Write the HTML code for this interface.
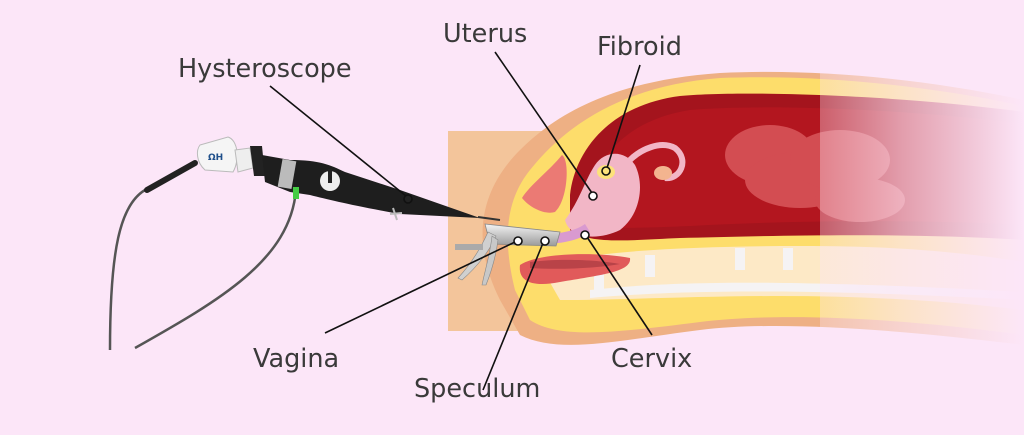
<!DOCTYPE html>
<html><head><meta charset="utf-8"><style>
html,body{margin:0;padding:0;background:#fce6f8;}
svg{display:block}
text{font-family:"DejaVu Sans","Liberation Sans",sans-serif;font-size:25.5px;fill:#3a3a3a;}
</style></head><body>
<svg width="1024" height="435" viewBox="0 0 1024 435" xmlns="http://www.w3.org/2000/svg">
<defs>
<linearGradient id="fade" x1="0" x2="1" y1="0" y2="0">
<stop offset="0" stop-color="#fce6f8" stop-opacity="0.35"/>
<stop offset="0.4" stop-color="#fce6f8" stop-opacity="0.65"/>
<stop offset="1" stop-color="#fce6f8" stop-opacity="1"/>
</linearGradient>
<linearGradient id="steel" x1="0" x2="0" y1="0" y2="1">
<stop offset="0" stop-color="#f4f4f4"/><stop offset="1" stop-color="#9a9a9a"/>
</linearGradient>
</defs>
<rect width="1024" height="435" fill="#fce6f8"/>
<rect x="448" y="131" width="100" height="200" fill="#f3c59b"/>
<path d="M500,300 C470,240 480,190 520,150 C560,110 620,80 720,73 C820,68 930,80 1024,100 L1024,345 C900,330 780,320 700,330 C620,340 560,355 520,335 Z" fill="#eeb084"/>
<path d="M515,290 C500,230 510,195 530,170 C570,120 630,85 720,78 C820,74 930,86 1024,106 L1024,335 C900,318 780,312 700,322 C620,332 560,340 530,320 Z" fill="#fddd6b"/>
<path d="M570,195 C575,150 610,105 680,96 C740,90 900,95 1024,112 L1024,240 C900,232 760,236 680,238 C630,240 590,245 570,230 Z" fill="#a4141d"/>
<path d="M585,200 C595,160 625,120 690,110 C760,104 900,108 1024,124 L1024,225 C900,218 760,222 690,226 C640,228 600,230 585,222 Z" fill="#b3161f"/>
<g fill="#d9575c" opacity="0.85">
<ellipse cx="770" cy="155" rx="45" ry="30"/>
<ellipse cx="800" cy="180" rx="55" ry="28"/>
<ellipse cx="840" cy="160" rx="50" ry="30"/>
<ellipse cx="860" cy="200" rx="45" ry="22"/>
</g>
<path d="M540,265 C600,250 700,246 800,246 C900,246 960,252 1024,262 L1024,310 C940,300 860,296 780,296 C700,296 620,300 560,300 Z" fill="#fde9c6"/>
<g fill="#f5f3f4">
<rect x="735" y="248" width="10" height="22"/><rect x="783" y="248" width="10" height="22"/>
<rect x="645" y="255" width="10" height="22"/><rect x="594" y="272" width="10" height="22"/>
<path d="M590,290 C680,280 800,280 1024,292 L1024,300 C800,288 680,290 590,298Z"/>
</g>
<path d="M520,265 C540,252 600,252 630,258 C632,272 600,275 560,282 C530,288 518,280 520,265 Z" fill="#e15a5a"/>
<path d="M530,262 C560,258 600,260 620,264 C600,268 560,270 530,268Z" fill="#b94348"/>
<path d="M522,198 C530,185 550,170 562,155 C570,160 568,200 555,212 C545,215 530,208 522,198Z" fill="#eb7a74"/>
<path d="M565,220 C580,200 585,180 595,165 C605,150 625,150 635,165 C645,185 640,215 620,230 C600,240 570,240 565,220Z" fill="#f2b6c6"/>
<path d="M630,160 C640,150 660,140 675,148 C690,160 680,180 665,178" fill="none" stroke="#f2b6c6" stroke-width="6"/>
<ellipse cx="663" cy="173" rx="9" ry="7" fill="#f3b48f"/>
<ellipse cx="606" cy="172" rx="9" ry="7" fill="#fde27a"/>
<path d="M510,232 C540,236 570,235 585,224 L590,232 C575,244 545,246 510,243Z" fill="#d99ad0"/>
<path d="M485,224 L560,232 L556,246 L490,244 Z" fill="url(#steel)" stroke="#888" stroke-width="0.8"/>
<path d="M488,232 C480,250 470,265 458,278 L462,280 C478,266 490,250 496,236Z" fill="#d0d0d0" stroke="#888" stroke-width="0.6"/>
<path d="M492,236 C490,255 485,270 482,285 L486,285 C492,270 496,255 498,240Z" fill="#c8c8c8" stroke="#888" stroke-width="0.6"/>
<rect x="455" y="244" width="28" height="6" fill="#aaa"/>
<path d="M145,190 C120,205 110,250 110,350" fill="none" stroke="#555" stroke-width="2.5"/>
<path d="M296,190 C290,260 220,300 135,348" fill="none" stroke="#555" stroke-width="2.5"/>
<path d="M147,190 L195,163" stroke="#222" stroke-width="6" stroke-linecap="round"/>
<path d="M200,145 L228,137 C238,140 240,160 233,172 L205,170 C196,162 196,150 200,145Z" fill="#f5f5f5" stroke="#bbb"/>
<text x="208" y="160" style="font-size:9px;fill:#1f4f8a;font-weight:bold">ΩH</text>
<path d="M235,150 L250,148 L253,168 L238,172Z" fill="#eee" stroke="#bbb"/>
<path d="M250,146 L262,146 L265,176 L254,176Z" fill="#222"/>
<path d="M262,155 L290,160 C320,160 330,165 345,172 L400,190 L480,218 L400,214 C350,205 330,200 310,195 L290,192 L265,182Z" fill="#1e1e1e"/>
<rect x="280" y="160" width="14" height="28" fill="#bbb" transform="rotate(10 287 174)"/>
<circle cx="330" cy="181" r="10" fill="#eee"/><rect x="328" y="169" width="4" height="14" fill="#222"/>
<rect x="293" y="187" width="6" height="12" fill="#4c4"/>
<path d="M393,208 L397,220 M390,214 L402,213" stroke="#bbb" stroke-width="2"/>
<path d="M478,217 L500,220" stroke="#333" stroke-width="2"/>
<rect x="820" y="60" width="204" height="300" fill="url(#fade)"/>
<g stroke="#111" stroke-width="1.6" fill="#fff">
<line x1="495" y1="52" x2="592" y2="193"/>
<line x1="640" y1="65" x2="607" y2="168"/>
<line x1="270" y1="86" x2="406" y2="196"/>
<line x1="325" y1="333" x2="515" y2="242"/>
<line x1="483" y1="390" x2="543" y2="243"/>
<line x1="652" y1="335" x2="587" y2="237"/>
<circle cx="593" cy="196" r="4"/>
<circle cx="606" cy="171" r="4" fill="#fde27a"/>
<circle cx="408" cy="199" r="4" fill="#222" stroke="#111"/>
<circle cx="518" cy="241" r="4"/>
<circle cx="545" cy="241" r="4"/>
<circle cx="585" cy="235" r="4"/>
</g>
<text x="443" y="42">Uterus</text>
<text x="597" y="55">Fibroid</text>
<text x="178" y="77">Hysteroscope</text>
<text x="253" y="367">Vagina</text>
<text x="414" y="397">Speculum</text>
<text x="611" y="367">Cervix</text>
</svg>
</body></html>
